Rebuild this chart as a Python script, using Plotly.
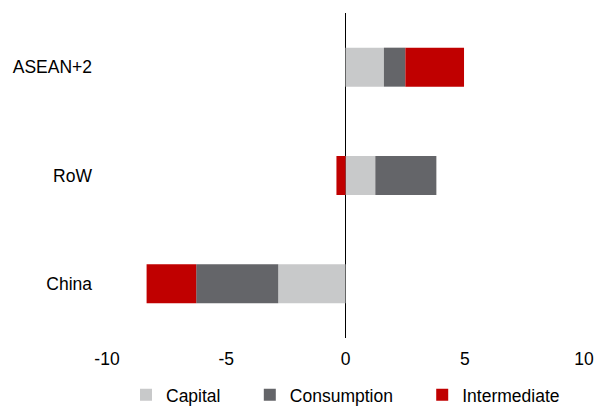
import plotly.graph_objects as go

regions = ["China", "RoW", "ASEAN+2"]
capital = [-2.82, 1.25, 1.61]
consumption = [-3.44, 2.56, 0.90]
intermediate = [-2.08, -0.38, 2.46]
x_ticks = [-10, -5, 0, 5, 10]

PAD = "\u00a0" * 5
series = [
    ("Capital" + PAD, capital, "#C8C9CA"),
    ("Consumption" + PAD, consumption, "#646569"),
    ("Intermediate", intermediate, "#C00000"),
]

fig = go.Figure()
for name, vals, color in series:
    fig.add_trace(go.Bar(
        y=regions, x=vals, name=name, orientation="h",
        marker=dict(color=color, line=dict(width=0)),
    ))

fig.update_layout(
    width=601, height=399,
    barmode="relative",
    bargap=0.64,
    plot_bgcolor="white", paper_bgcolor="white",
    margin=dict(l=99, r=25, t=5, b=69, autoexpand=False),
    font=dict(family="Liberation Sans, Arial, sans-serif", size=17.5, color="#000000"),
    showlegend=True,
    legend=dict(orientation="h", x=0.5, xanchor="center", y=-0.175, yanchor="middle",
                font=dict(size=17.5), itemwidth=30, traceorder="normal"),
    xaxis=dict(range=[-10, 10], tickvals=x_ticks, ticktext=[str(v) for v in x_ticks],
               showgrid=False, zeroline=True, zerolinecolor="#000000", zerolinewidth=1,
               showline=False, ticks="", ticklabelstandoff=8, automargin=False),
    yaxis=dict(categoryorder="array", categoryarray=regions, showgrid=False,
               showline=False, ticks="", ticklabelstandoff=14, automargin=False),
)

fig.write_html("out.html")
